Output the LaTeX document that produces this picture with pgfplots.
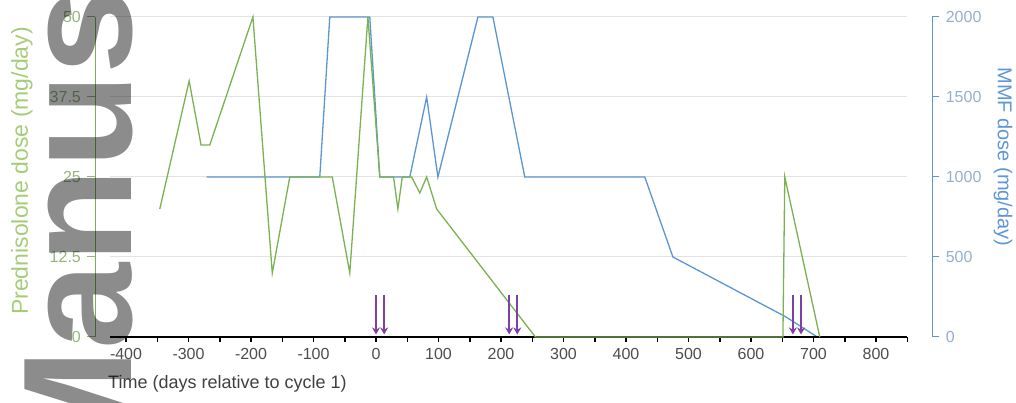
\documentclass[border=0pt]{standalone}
\usepackage{fontspec}
\setmainfont{Liberation Sans}
\usepackage{pgfplots}
\pgfplotsset{compat=1.18}
\usetikzlibrary{arrows.meta}
\definecolor{pgreen}{RGB}{122,178,82}
\definecolor{plabel}{RGB}{165,205,120}
\definecolor{ptick}{RGB}{150,180,125}
\definecolor{mblue}{RGB}{92,150,208}
\definecolor{mlabel}{RGB}{95,150,215}
\definecolor{mtick}{RGB}{150,175,205}
\definecolor{arrowc}{RGB}{125,65,165}
\begin{document}
\begin{tikzpicture}
\useasboundingbox (0,0) rectangle (1016pt,403pt);
\pgfplotsset{
  base/.style={scale only axis, width=796.875pt, height=320pt,
    xmin=-425, xmax=850, anchor=south west, at={(110.4pt,66pt)},
    clip=false, tick align=outside, major tick length=5pt, minor tick length=5pt,
    tick label style={font=\fontsize{16}{18}\selectfont}},
}
% grid + left axis
\begin{axis}[base, ymin=0, ymax=50, axis x line=none,
  axis y line*=left, axis y line shift=15pt,
  major tick length=8pt,
  ytick={0,12.5,25,37.5,50}, yticklabels={0,12.5,25,37.5,50},
  ymajorgrids, grid style={line width=1pt, black!11},
  y axis line style={pgreen, line width=1.2pt, -},
  tick style={ptick, line width=1pt},
  yticklabel style={text=ptick, xshift=-3pt}]
\end{axis}
% MMF axis (right)
\begin{axis}[base, ymin=0, ymax=2000, axis x line=none,
  axis y line*=right, axis y line shift=25pt,
  major tick length=7pt,
  ytick={0,500,1000,1500,2000}, yticklabels={0,500,1000,1500,2000},
  y axis line style={mblue, line width=1.2pt, -},
  tick style={mblue, line width=1pt},
  yticklabel style={text=mtick, xshift=3pt}]
\addplot[mblue, line width=1.3pt] coordinates {
(-271,1000) (-90,1000) (-74,2000) (-42,2000) (-10,2000) (6,1000) (54,1000)
(81,1500) (99,1000) (163,2000) (187,2000) (238,1000) (430,1000) (475,500)
(656,125) (706,0) (840,0)};
\end{axis}
% time axis + prednisolone
\begin{axis}[base, ymin=0, ymax=50, axis y line=none,
  axis x line*=bottom,
  xtick={-400,-300,-200,-100,0,100,200,300,400,500,600,700,800},
  xticklabels={-400,-300,-200,-100,0,100,200,300,400,500,600,700,800},
  minor xtick={-350,-250,-150,-50,50,150,250,350,450,550,650,750,850},
  x axis line style={black, line width=1.5pt, -},
  tick style={black, line width=1.5pt},
  xticklabel style={text=black!70, yshift=-3pt}]
\addplot[pgreen, line width=1.3pt] coordinates {
(-346,20) (-299,40) (-280,30) (-266,30) (-197,50) (-166,10) (-138,25) (-122,25)
(-70,25) (-42,10) (-13,50) (6,25) (28,25) (35,20) (42,25) (57,25) (70,22.5)
(81,25) (97,20) (255,0) (651,0) (654,25) (710,0)};
\addplot[arrowc, line width=1.6pt, -{Stealth[length=7pt,width=8pt]},
  quiver={u=0, v=-6.2}] table {
x y
0 6.6
13 6.6
213 6.6
226 6.6
667 6.6
680 6.6
};
\end{axis}
% axis titles
\node[anchor=west, inner sep=0, text=black!75, font=\fontsize{18}{20}\selectfont]
  at (108pt,19pt) {Time (days relative to cycle 1)};
\node[rotate=90, inner sep=0, text=plabel, font=\fontsize{23}{25}\selectfont]
  at (22pt,232pt) {Prednisolone dose (mg/day)};
\node[rotate=-90, inner sep=0, text=mlabel, font=\fontsize{20}{22}\selectfont]
  at (1003pt,246pt) {MMF dose (mg/day)};
% watermark
\node[rotate=90, anchor=base west, inner sep=0, text=black, text opacity=0.45,
  font=\fontsize{155}{155}\selectfont\bfseries] at (131pt,-76pt) {Manuscript};
\end{tikzpicture}
\end{document}
